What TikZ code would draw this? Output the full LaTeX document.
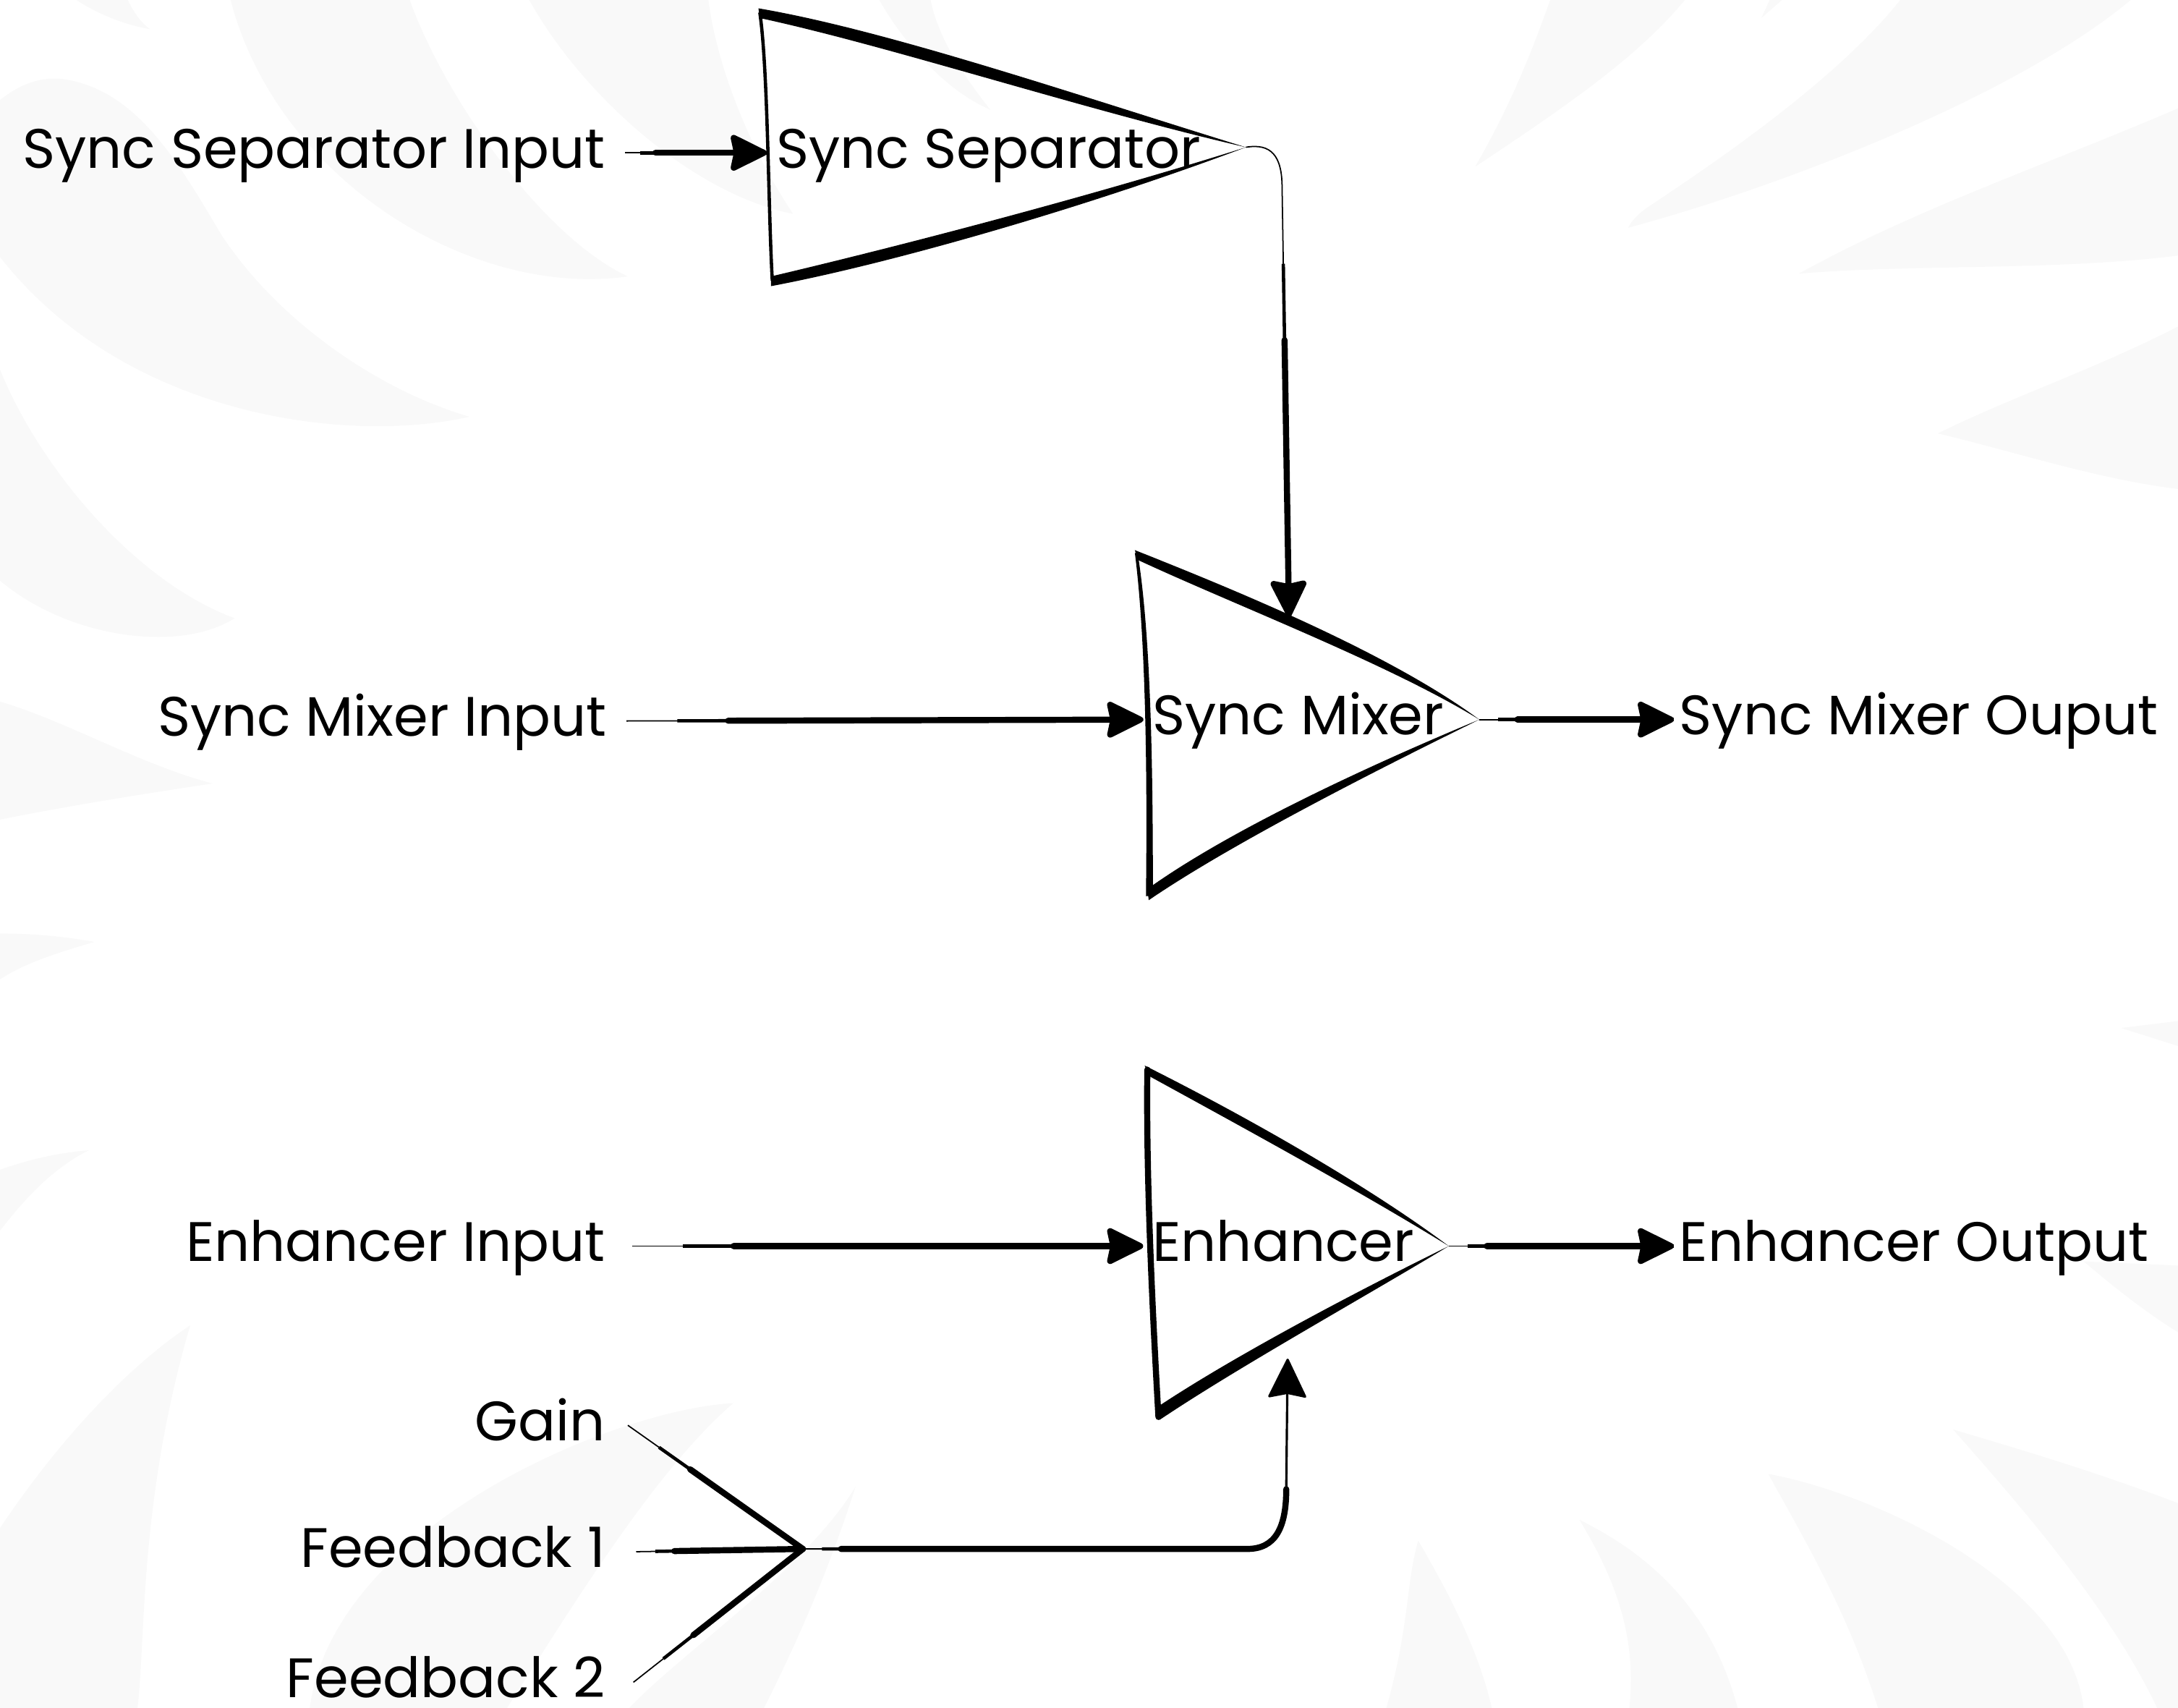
\documentclass[tikz,border=0pt]{standalone}
\usepackage{fontspec}
\setmainfont{Poppins}
\usetikzlibrary{arrows.meta}

\definecolor{leafgray}{HTML}{F9F9F9}
\tikzset{
    leaf/.style = {fill = leafgray},
    ink/.style = {fill = black},
    txt/.style = {font = \fontsize{21.85}{26}\selectfont, text height = 16pt, text depth = 4pt, inner ysep = 0pt},
    inlabel/.style = {txt, anchor = east, inner xsep = #1},
    inlabel/.default = 7.6pt,
    outlabel/.style = {txt, anchor = west, inner xsep = 2pt},
    blocklabel/.style = {txt, anchor = west, inner xsep = 3.5pt},
    wire/.style = {line width = 2.4pt, line cap = round, shorten <= #1,
        preaction = {draw, -, line width = 1.3pt, shorten <= 0.5*#1},
        preaction = {draw, -, line width = 0.5pt, shorten <= 0pt}},
    wire/.default = 30pt,
    tip/.style = {-{Stealth[length = 16pt, width = 15.5pt, inset = 1.5pt, round]}},
    arrow/.style = {wire = #1, tip},
    arrow/.default = 30pt
}

\begin{document}
\begin{tikzpicture}[x = 0.0192cm, y = -0.0192cm]
    \useasboundingbox (0,0) rectangle (1568,1229.5);

    % background leaves
    \fill[leaf] (55,0) .. controls (70,10) and (90,18) .. (108,21) .. controls (100,15) and (96,8) .. (92,0) -- cycle;
    \fill[leaf] (166,0) .. controls (200,130) and (340,215) .. (452,199) .. controls (390,170) and (320,70) .. (295,0) -- cycle;
    \fill[leaf] (381,0) .. controls (420,70) and (500,140) .. (571,154) .. controls (535,100) and (515,40) .. (510,0) -- cycle;
    \fill[leaf] (633,0) .. controls (650,30) and (680,65) .. (713,79) .. controls (690,50) and (675,25) .. (670,0) -- cycle;
    \fill[leaf] (0,72) .. controls (15,60) and (30,55) .. (46,57) .. controls (100,65) and (130,120) .. (160,170) .. controls (200,230) and (270,280) .. (338,300) .. controls (250,320) and (90,300) .. (0,185) -- cycle;
    \fill[leaf] (0,266) .. controls (30,340) and (100,420) .. (169,445) .. controls (130,470) and (50,460) .. (0,418) -- cycle;
    \fill[leaf] (0,505) .. controls (50,520) and (100,550) .. (153,564) .. controls (100,572) and (50,580) .. (0,590) -- cycle;
    \fill[leaf] (0,672) .. controls (25,672) and (45,674) .. (68,678) .. controls (45,685) and (20,692) .. (0,705) -- cycle;
    \fill[leaf] (0,842) .. controls (20,835) and (40,830) .. (64,828) .. controls (40,840) and (20,860) .. (0,886) -- cycle;
    \fill[leaf] (137,954) .. controls (90,985) and (40,1040) .. (0,1100) -- (0,1229.5) -- (99,1229.5) .. controls (105,1180) and (100,1080) .. (137,954);
    \fill[leaf] (528,1010) .. controls (440,1015) and (240,1100) .. (223,1229.5) -- (365,1229.5) .. controls (410,1160) and (470,1060) .. (528,1010);
    \fill[leaf] (616,1070) .. controls (580,1130) and (490,1190) .. (453,1229.5) -- (550,1229.5) .. controls (580,1170) and (600,1120) .. (616,1070);
    \fill[leaf] (1116,0) .. controls (1100,45) and (1085,80) .. (1062,120) .. controls (1130,75) and (1180,40) .. (1213,0) -- cycle;
    \fill[leaf] (1268,13) -- (1274,0) -- (1283,0) -- cycle;
    \fill[leaf] (1368,0) .. controls (1320,60) and (1230,120) .. (1185,150) .. controls (1178,155) and (1174,160) .. (1172,164) .. controls (1280,135) and (1450,70) .. (1534,0) -- cycle;
    \fill[leaf] (1295,197) .. controls (1380,150) and (1470,120) .. (1568,78) -- (1568,184) .. controls (1480,195) and (1380,190) .. (1295,197);
    \fill[leaf] (1395,312) .. controls (1450,285) and (1510,265) .. (1568,235) -- (1568,352) .. controls (1510,345) and (1450,325) .. (1395,312);
    \fill[leaf] (1527,740) -- (1568,735) -- (1568,753) -- cycle;
    \fill[leaf] (1500,908) -- (1568,911) -- (1568,959) .. controls (1545,945) and (1520,925) .. (1500,908);
    \fill[leaf] (1406,1029) .. controls (1460,1045) and (1510,1060) .. (1568,1082) -- (1568,1229.5) -- (1553,1229.5) .. controls (1520,1160) and (1460,1090) .. (1406,1029);
    \fill[leaf] (1273,1061) .. controls (1350,1075) and (1490,1140) .. (1500,1229.5) -- (1352,1229.5) .. controls (1330,1160) and (1300,1110) .. (1273,1061);
    \fill[leaf] (1137,1094) .. controls (1200,1125) and (1235,1170) .. (1251,1229.5) -- (1173,1229.5) .. controls (1178,1180) and (1165,1140) .. (1137,1094);
    \fill[leaf] (1021,1109) .. controls (1045,1150) and (1065,1190) .. (1074,1229.5) -- (998,1229.5) .. controls (1015,1170) and (1012,1140) .. (1021,1109);

    % labels
    \node[inlabel] (sepin) at (450,110) {Sync Separator Input};
    \node[inlabel] (mixin) at (451,519) {Sync Mixer Input};
    \node[inlabel = 10.4pt] (enhin) at (455,897) {Enhancer Input};
    \node[inlabel = 8.7pt] (gain) at (452,1026) {Gain};
    \node[inlabel = 12pt] (fbone) at (458,1117) {Feedback 1};
    \node[inlabel = 10.9pt] (fbtwo) at (456,1211) {Feedback 2};
    \node[outlabel] (mixout) at (1205,518) {Sync Mixer Ouput};
    \node[outlabel] (enhout) at (1205,897) {Enhancer Output};
    \node[blocklabel] (sep) at (552,110) {Sync Separator};
    \node[blocklabel] (mix) at (823,518) {Sync Mixer};
    \node[blocklabel] (enh) at (823,897) {Enhancer};

    \coordinate (septip) at (897,106);
    \coordinate (mixtip) at (1065,518);
    \coordinate (enhtip) at (1043,897);
    \coordinate (sepdrop) at (923,135);
    \coordinate (mixtop) at (928,444);
    \coordinate (enhbot) at (927,978);
    \coordinate (join) at (578,1115);
    \coordinate (bend) at (926,1072);

    % sync separator
    \fill[ink] (546,6) .. controls (640,22) and (780,70) .. (septip) .. controls (780,79) and (640,33) .. (547,13) -- cycle;
    \fill[ink] (555,206) .. controls (640,190) and (780,150) .. (septip) .. controls (780,143) and (640,179) .. (555,199) -- cycle;
    \draw[line width = 1.3pt] (547,9) .. controls (553,50) and (553,150) .. (556,202);

    % sync mixer
    \fill[ink] (817,396) .. controls (890,425) and (1000,470) .. (mixtip) .. controls (1000,478) and (890,436) .. (819,403) -- cycle;
    \fill[ink] (827,648) .. controls (890,605) and (1000,550) .. (mixtip) .. controls (1000,545) and (890,594) .. (826,640) -- cycle;
    \fill[ink] (817,398) .. controls (825,460) and (826,560) .. (825,645) -- (830,645) .. controls (830,560) and (829,460) .. (819,398) -- cycle;

    % enhancer
    \fill[ink] (824,767) .. controls (890,800) and (980,850) .. (enhtip) .. controls (980,858) and (890,809) .. (828,775) -- cycle;
    \fill[ink] (835,1022) .. controls (890,985) and (980,935) .. (enhtip) .. controls (980,928) and (890,975) .. (833,1013) -- cycle;
    \draw[line width = 2.4pt, line cap = round] (826,770) .. controls (825,850) and (830,950) .. (834,1020);

    % connectors
    \draw[arrow = 12pt] (sepin.east) -- (sep.west);
    \draw[arrow = 40pt] (mixin.east) -- (mix.west);
    \draw[arrow = 40pt] (enhin.east) -- (enh.west);
    \draw[arrow = 15pt] (mixtip) -- (mixout.west);
    \draw[arrow = 15pt] (enhtip) -- (enhout.west);
    \draw[line width = 0.5pt] (septip) .. controls (915,103) and (923,112) .. (sepdrop);
    \draw[arrow = 60pt] (sepdrop) -- (mixtop);
    \draw[wire = 30pt] (gain.east) -- (join);
    \draw[wire = 15pt] (fbone.east) -- (join);
    \draw[wire = 30pt] (fbtwo.east) -- (join);
    \draw[wire = 15pt] (join) -- (898,1115) .. controls (918,1115) and (926,1100) .. (bend);
    \draw[line width = 0.9pt, tip] (bend) -- (enhbot);
\end{tikzpicture}
\end{document}
